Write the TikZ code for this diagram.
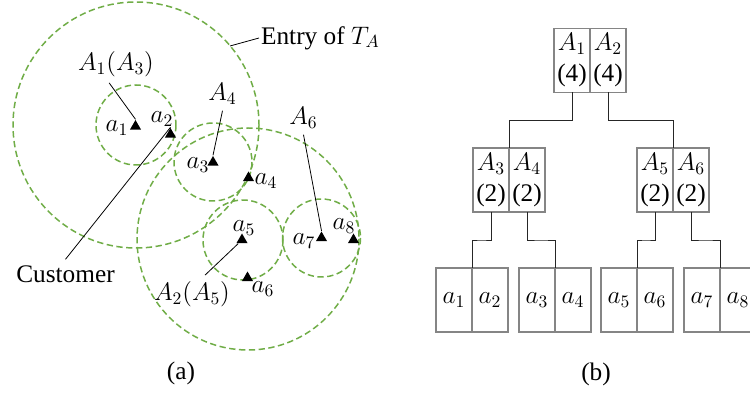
\documentclass[tikz,border=0pt]{standalone}
\usepackage{fontspec}
\setmainfont{Liberation Serif}
\usepackage{tikz}
\usetikzlibrary{calc,positioning,shapes.geometric}
\definecolor{zonegreen}{HTML}{70AD47}
\definecolor{boxgray}{HTML}{858585}

\begin{document}
\begin{tikzpicture}[x=0.02cm,y=-0.02cm,font=\fontsize{14.4}{17.6}\selectfont,
  zone/.style={zonegreen,line width=0.85pt,dash pattern=on 3.6pt off 2pt},
  cust/.style={regular polygon,regular polygon sides=3,fill=black,inner sep=0pt,minimum size=0.26cm},
  lead/.style={line width=0.45pt},
  cell/.style={draw=boxgray,line width=0.6pt,minimum width=0.72cm,minimum height=1.28cm,inner sep=0pt,outer sep=0pt,align=center},
  link/.style={line width=0.5pt,black!85}]
  \useasboundingbox (0,0) rectangle (750,398);
  % (a) zones of T_A
  \draw[zone] (136,125) circle (123);
  \draw[zone] (248,239) circle (111);
  \draw[zone] (136,125) circle (40);
  \draw[zone] (213,162) circle (39);
  \draw[zone] (243,240) circle (40);
  \draw[zone] (321.5,238) circle (39);
  \node[cust] (c1) at (135.5,126.5) {};
  \node[cust] (c2) at (170.5,134.5) {};
  \node[cust] (c3) at (213,162.5) {};
  \node[cust] (c4) at (248.5,178) {};
  \node[cust] (c5) at (242,240) {};
  \node[cust] (c6) at (247.5,278) {};
  \node[cust] (c7) at (321.5,238) {};
  \node[cust] (c8) at (353.5,240) {};
  \node (n1) at (117,128) {$a_1$};
  \node (n2) at (162,119) {$a_2$};
  \node (n3) at (198,165) {$a_3$};
  \node (n4) at (266,181) {$a_4$};
  \node (n5) at (244,228) {$a_5$};
  \node (n6) at (263,289) {$a_6$};
  \node (n7) at (304,241) {$a_7$};
  \node (n8) at (344,226) {$a_8$};
  \node (lA13) at (116,64) {$A_1(A_3)$};
  \node (lA4) at (222.5,94) {$A_4$};
  \node (lA6) at (303.5,118) {$A_6$};
  \node (lA25) at (192,294) {$A_2(A_5)$};
  \node (lcust) at (65.5,274) {Customer};
  \node[anchor=west,inner sep=1pt] (lentry) at (259,38) {Entry of $T_A$};
  \coordinate (eT) at (230,46);
  \draw[lead] (lA13.250) -- (c1.north);
  \draw[lead] (lA4.south) -- (c3.north);
  \draw[lead] (lA6.south) -- (c7.north);
  \draw[lead] (lcust.north) -- (c2.north);
  \draw[lead] ([xshift=0.26cm]lA25.north) -- (c5);
  \draw[lead] (eT) -- (lentry.west);
  \node (capa) at (181,373) {(a)};
  % (b) tree
  \node[cell] (t1) at (572,60.5) {$A_1$\\(4)};
  \node[cell,right=0pt of t1] (t2) {$A_2$\\(4)};
  \node[cell] (m3) at (491,180) {$A_3$\\(2)};
  \node[cell,right=0pt of m3] (m4) {$A_4$\\(2)};
  \node[cell] (m5) at (655,180) {$A_5$\\(2)};
  \node[cell,right=0pt of m5] (m6) {$A_6$\\(2)};
  \node[cell] (l1) at (454,300) {$a_1$};
  \node[cell,right=0pt of l1] (l2) {$a_2$};
  \node[cell] (l3) at (537,300) {$a_3$};
  \node[cell,right=0pt of l3] (l4) {$a_4$};
  \node[cell] (l5) at (619,300) {$a_5$};
  \node[cell,right=0pt of l5] (l6) {$a_6$};
  \node[cell] (l7) at (702,300) {$a_7$};
  \node[cell,right=0pt of l7] (l8) {$a_8$};
  \foreach \p/\c in {t1/m3,t2/m5,m3/l1,m4/l3,m5/l5,m6/l7}
    \draw[link] (\p.south) |- ($(\p.south)!.5!(\c.north east)$) -| (\c.north east);
  \node (capb) at (596,374) {(b)};
\end{tikzpicture}
\end{document}
